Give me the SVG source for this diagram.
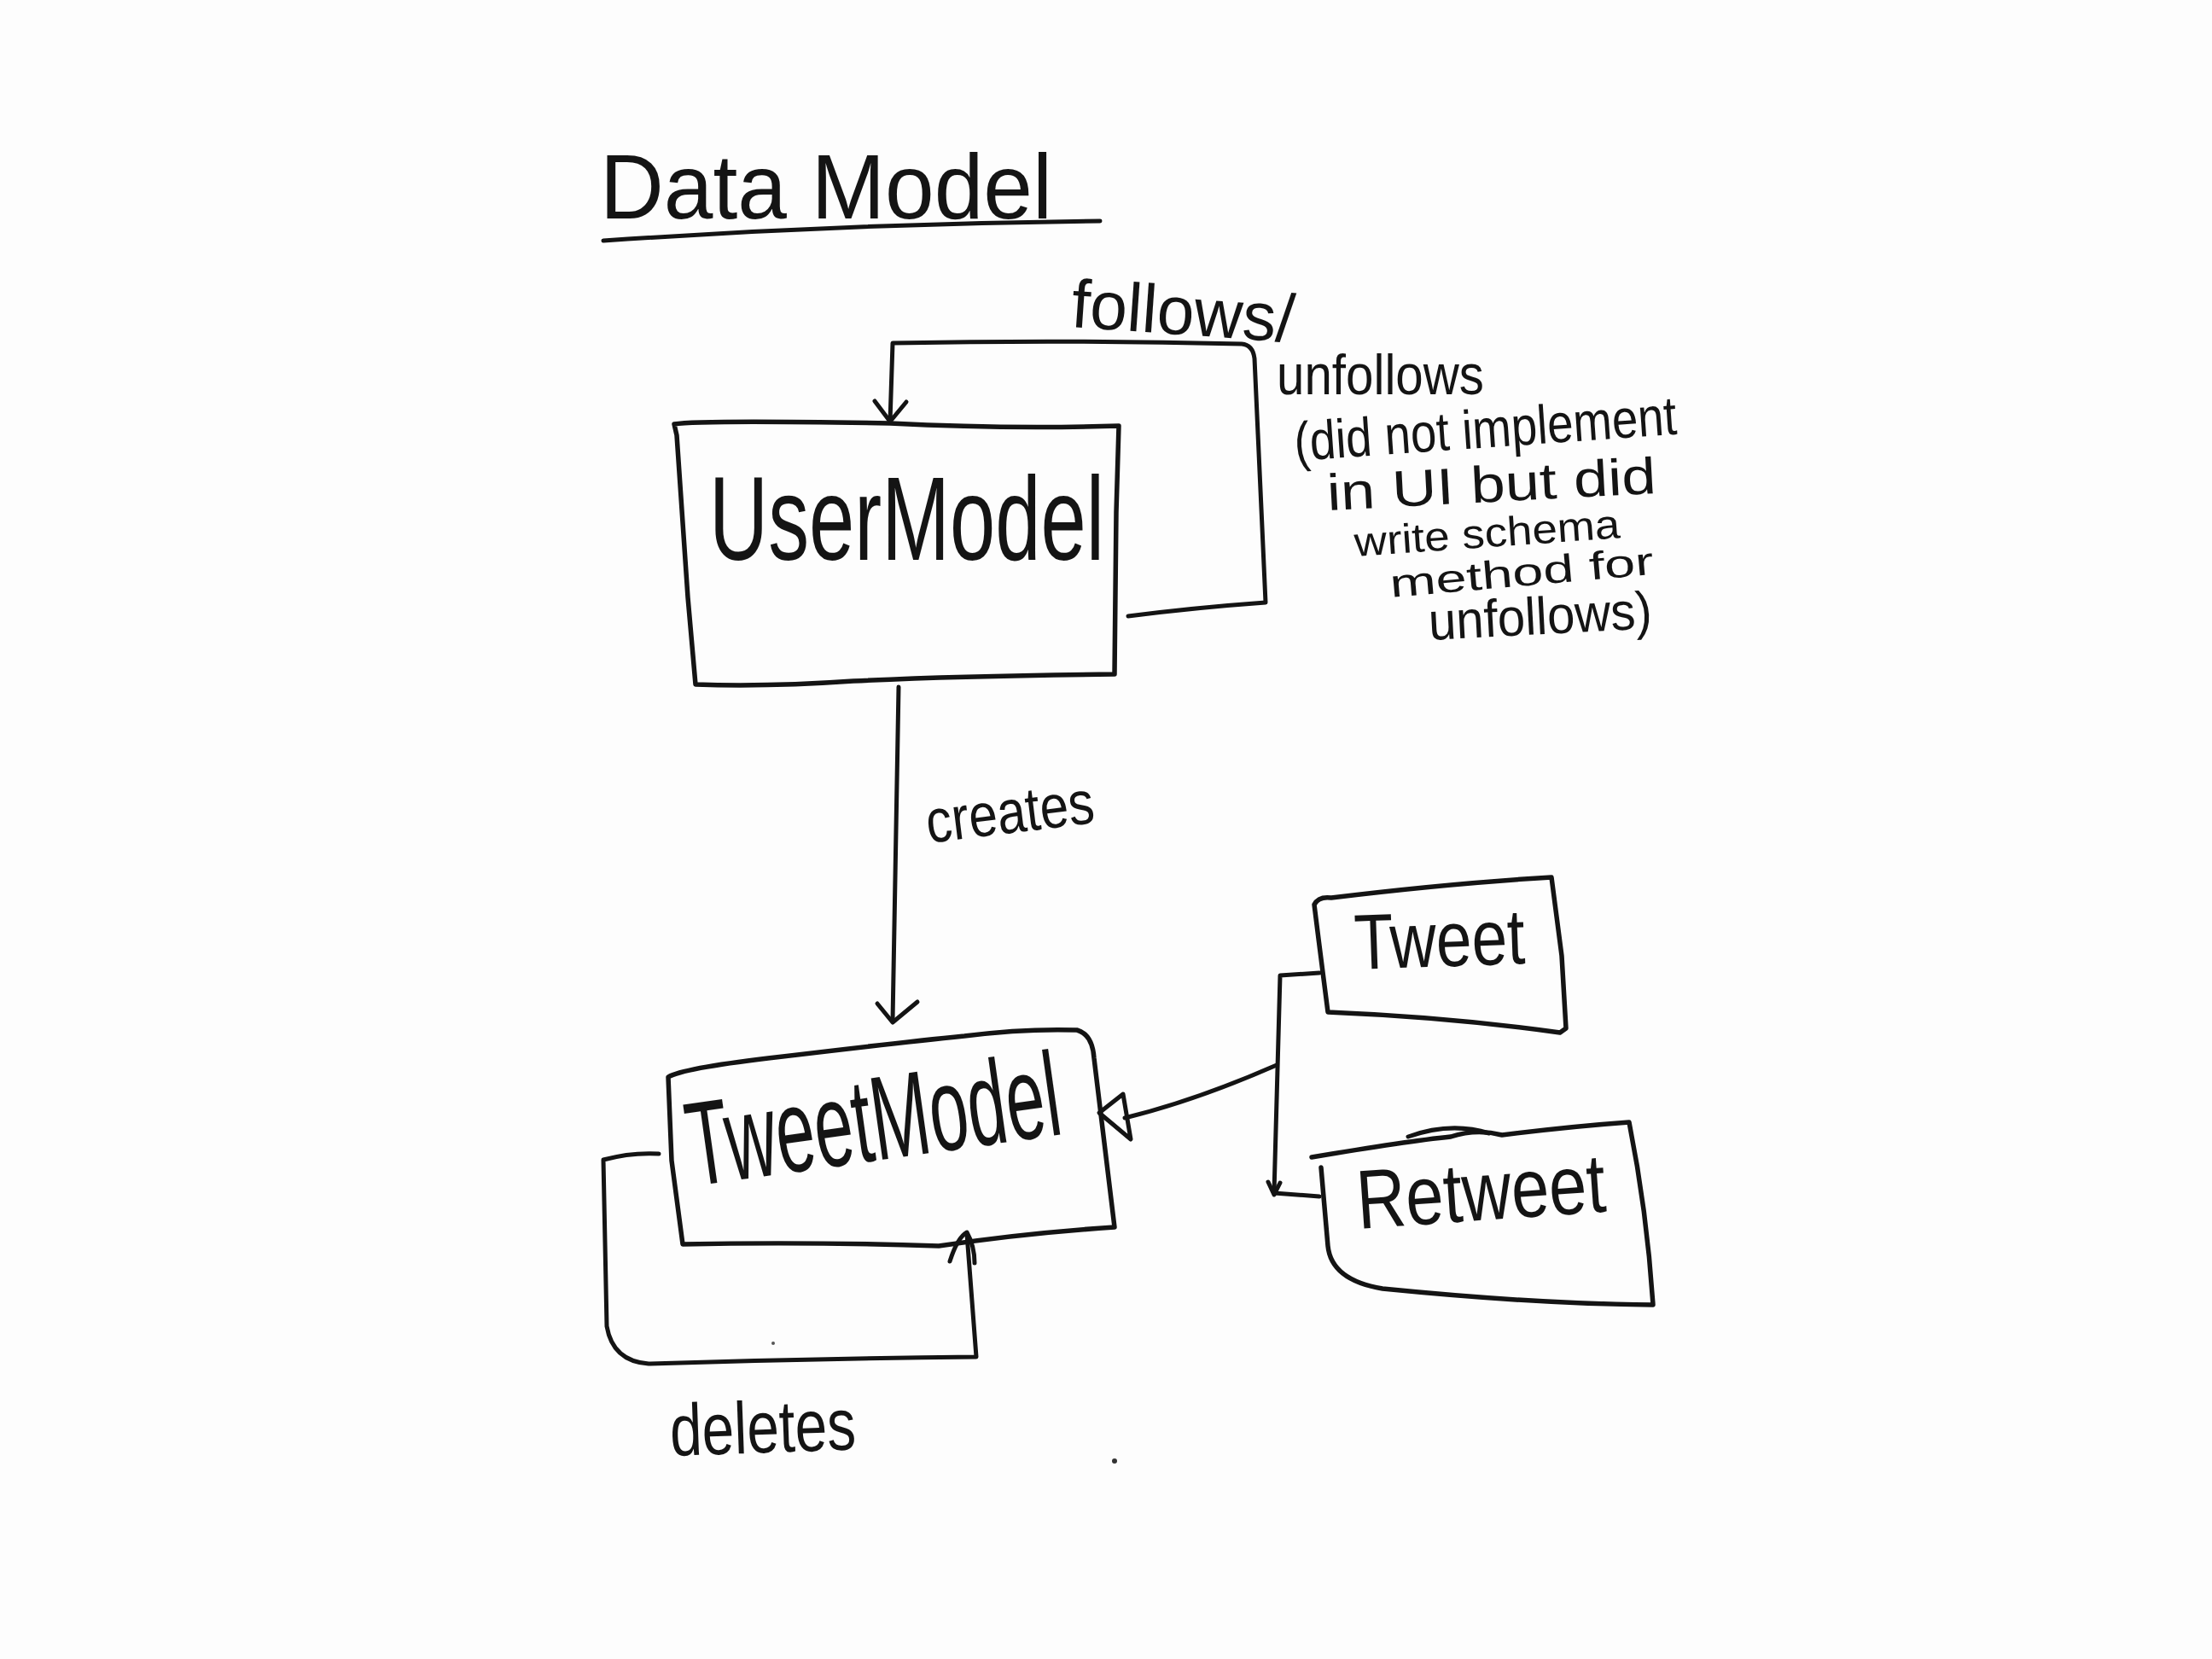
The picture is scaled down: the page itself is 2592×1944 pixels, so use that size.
<svg xmlns="http://www.w3.org/2000/svg" width="2592" height="1944" viewBox="0 0 2592 1944">
<style>
.ln{fill:none;stroke:#141414;stroke-width:5;stroke-linecap:round;stroke-linejoin:round}
.bx{fill:none;stroke:#141414;stroke-width:5.5;stroke-linecap:round;stroke-linejoin:round}
.t{font-family:"Liberation Sans","DejaVu Sans",sans-serif;fill:#141414}
</style>
<rect width="2592" height="1944" fill="#fdfdfd"/>
<g id="title">
<text class="t" x="703" y="256" font-size="108" textLength="530" lengthAdjust="spacingAndGlyphs">Data Model</text>
<path class="ln" d="M707 282 Q1000 262 1289 259"/>
</g>
<g id="UserModel">
<path class="bx" d="M790 497 Q820 492 1043 496 Q1180 503 1311 499 L1308 600 L1306 790 Q1120 792 1000 798 Q900 805 815 802 L806 700 L793 510 Z"/>
<text class="t" x="831" y="656" font-size="140" textLength="463" lengthAdjust="spacingAndGlyphs">UserModel</text>
</g>
<g id="TweetModel">
<path class="bx" d="M783 1262 Q800 1252 900 1240 Q1050 1222 1130 1214 Q1200 1205 1262 1207 Q1280 1212 1282 1240 L1306 1438 Q1200 1445 1100 1460 Q950 1455 800 1458 L787 1360 Z"/>
<text class="t" x="812" y="1390" font-size="140" textLength="440" lengthAdjust="spacingAndGlyphs" transform="rotate(-8 812 1390)">TweetModel</text>
</g>
<g id="Tweet">
<path class="bx" d="M1540 1060 Q1545 1050 1560 1052 Q1700 1035 1818 1028 L1830 1120 L1835 1205 L1828 1210 Q1700 1192 1556 1186 L1545 1100 Z"/>
<text class="t" x="1588" y="1136" font-size="92" textLength="200" lengthAdjust="spacingAndGlyphs" transform="rotate(-2 1588 1136)">Tweet</text>
</g>
<g id="Retweet">
<path class="bx" d="M1537 1356 Q1650 1337 1700 1332 Q1730 1322 1760 1330 Q1840 1320 1909 1315 Q1930 1420 1937 1529 Q1800 1528 1620 1510 Q1560 1500 1556 1460 L1548 1368"/>
<path class="ln" d="M1650 1332 Q1700 1314 1745 1328"/>
<text class="t" x="1592" y="1440" font-size="98" textLength="292" lengthAdjust="spacingAndGlyphs" transform="rotate(-4 1592 1440)">Retweet</text>
</g>
<g id="connectors">
<path class="ln" d="M1322 722 Q1400 712 1483 706 L1470 420 Q1468 404 1455 403 Q1250 398 1046 402 L1043 494"/>
<path class="ln" d="M1025 470 L1043 494 L1062 471"/>
<path class="ln" d="M1053 805 L1046 1196"/>
<path class="ln" d="M1028 1176 L1046 1198 L1075 1174"/>
<path class="ln" d="M772 1352 Q740 1350 707 1359 L711 1554 Q718 1595 760 1598 Q950 1592 1144 1590 L1133 1446"/>
<path class="ln" d="M1113 1478 Q1122 1450 1133 1444 Q1142 1460 1142 1480"/>
<path class="ln" d="M1546 1140 L1500 1143 L1493 1398 L1546 1402"/>
<path class="ln" d="M1486 1385 L1493 1400 L1500 1386" stroke-width="3"/>
<path class="ln" d="M1318 1310 Q1400 1290 1496 1248"/>
<path class="ln" d="M1316 1282 L1288 1304 L1325 1335 Z"/>
</g>
<g id="labels">
<text class="t" x="1254" y="383" font-size="80" textLength="262" lengthAdjust="spacingAndGlyphs" transform="rotate(4 1254 383)">follows/</text>
<text class="t" x="1496" y="462" font-size="66" textLength="243" lengthAdjust="spacingAndGlyphs">unfollows</text>
<text class="t" x="1518" y="540" font-size="64" textLength="449" lengthAdjust="spacingAndGlyphs" transform="rotate(-4 1518 540)">(did not implement</text>
<text class="t" x="1556" y="598" font-size="60" textLength="386" lengthAdjust="spacingAndGlyphs" transform="rotate(-3 1556 598)">in UI but did</text>
<text class="t" x="1588" y="652" font-size="48" textLength="312" lengthAdjust="spacingAndGlyphs" transform="rotate(-4 1588 652)">write schema</text>
<text class="t" x="1630" y="700" font-size="46" textLength="310" lengthAdjust="spacingAndGlyphs" transform="rotate(-5 1630 700)">method for</text>
<text class="t" x="1675" y="750" font-size="62" textLength="262" lengthAdjust="spacingAndGlyphs" transform="rotate(-3 1675 750)">unfollows)</text>
<text class="t" x="1088" y="988" font-size="72" textLength="198" lengthAdjust="spacingAndGlyphs" transform="rotate(-7 1088 988)">creates</text>
<text class="t" x="786" y="1706" font-size="86" textLength="218" lengthAdjust="spacingAndGlyphs" transform="rotate(-2 786 1706)">deletes</text>
</g>
<circle cx="1306" cy="1712" r="3" fill="#333"/>
<circle cx="906" cy="1574" r="2" fill="#555"/>
</svg>
